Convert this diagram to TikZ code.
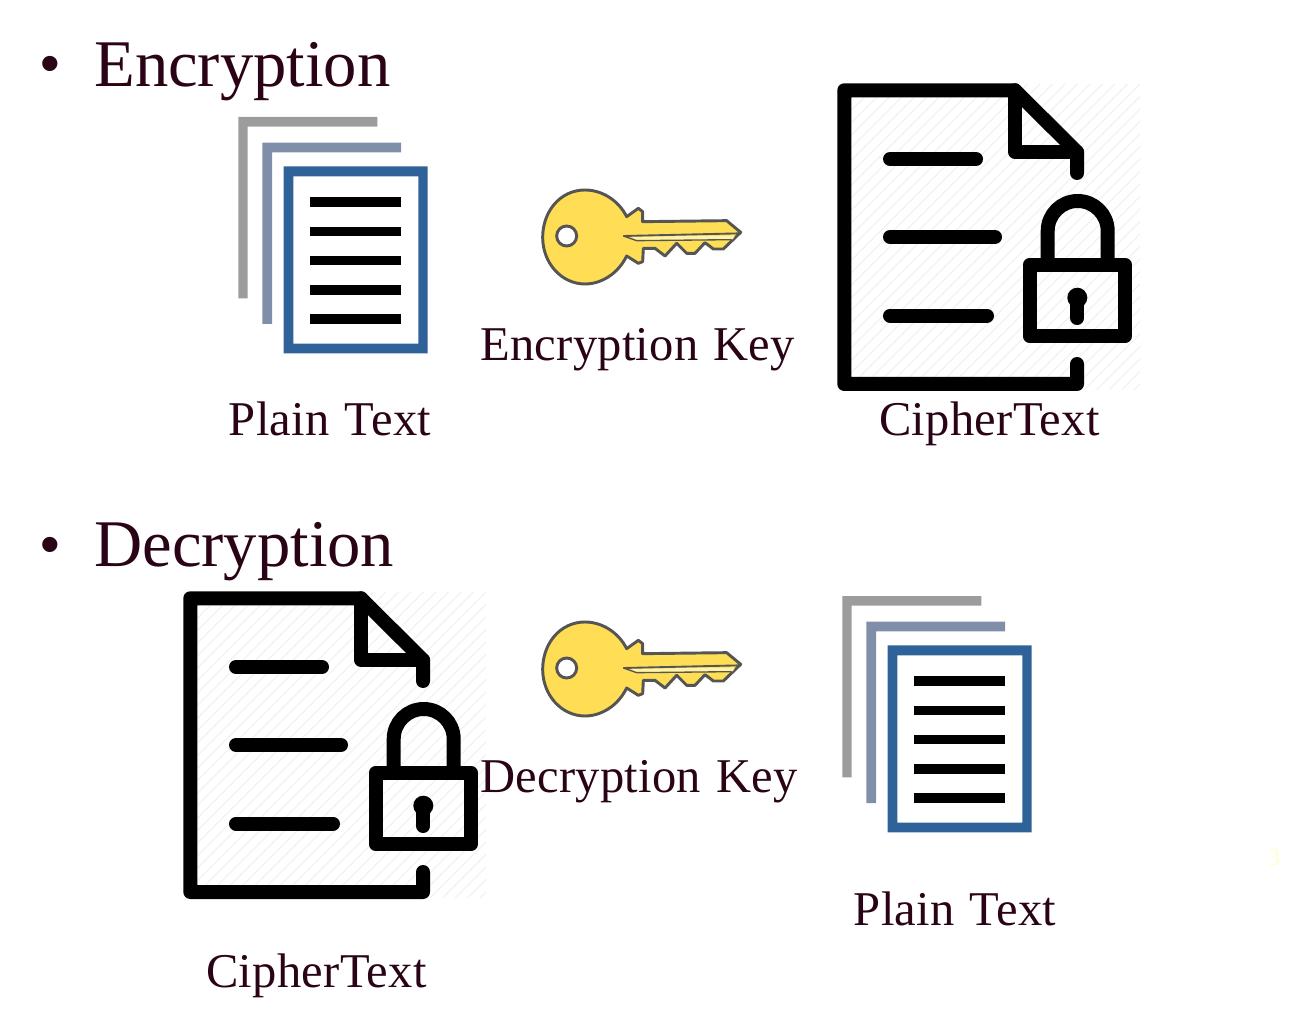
\documentclass[tikz,border=0pt]{standalone}
\usepackage{fontspec}
\setmainfont{Liberation Serif}
\newfontfamily\bulletfont{Liberation Sans}
\newfontface\labelface{Liberation Serif}[LetterSpace=0.6,WordSpace=1.2]
\definecolor{inktext}{HTML}{2A0416}
\definecolor{hatchgrey}{HTML}{F2F2F2}
\definecolor{keyyellow}{HTML}{FFDD55}
\definecolor{keypale}{HTML}{FFF3A8}
\definecolor{keyline}{HTML}{555555}
\definecolor{stackgrey}{HTML}{9C9C9C}
\definecolor{stackslate}{HTML}{7F8FA9}
\definecolor{stackblue}{HTML}{2F6299}
\definecolor{pagenum}{HTML}{FFFFC8}
\tikzset{
  x=0.75pt,y=-0.75pt,
  heading/.style={anchor=base west,inner sep=0pt,text=inktext,font=\fontsize{50pt}{56pt}\selectfont},
  label/.style={anchor=base west,inner sep=0pt,text=inktext,font=\labelface\fontsize{36.4pt}{42pt}\selectfont},
  bulletmark/.style={anchor=base,inner sep=0pt,text=inktext,font=\bulletfont\fontsize{42pt}{56pt}\selectfont},
  iconline/.style={draw=black,line width=10.5pt,line cap=round,line join=round},
  pics/cipherdoc/.style={code={
    \begin{scope}
      \clip (18,14) rectangle (320,320);
      \foreach \k in {20,32.5,...,640}{\draw[hatchgrey,line width=0.9pt] (\k,14) -- ++(-306,306);}
    \end{scope}
    \draw[iconline] (257,294) -- (257,314) -- (24.3,314) -- (24.3,20.3) -- (195,20.3) -- (257,82) -- (257,103);
    \draw[iconline] (195,20.3) -- (195,82) -- (257,82);
    \draw[iconline] (70,89) -- (156,89);
    \draw[iconline] (70,167) -- (175,167);
    \draw[iconline] (70,245.7) -- (167,245.7);
    \draw[iconline,line cap=butt] (227.7,195) -- (227.7,161) arc[start angle=180,end angle=360,radius=30] -- (287.7,195);
    \draw[iconline] (209.7,194.7) rectangle (305,266.3);
    \fill[black] (257.3,227.7) circle[radius=10];
    \draw[black,line width=10.5pt,line cap=round] (257.3,227.7) -- (257.3,248);
  }},
  pics/keyicon/.style={code={
    \begin{scope}[x=0.25pt,y=-0.25pt]
      \draw[draw=keyline,fill=keyyellow,line width=2.2pt,line join=round]
        (290,110) .. controls (265,60) and (215,30) .. (165,30)
        .. controls (90,30) and (38,95) .. (38,172)
        .. controls (38,250) and (95,312) .. (165,312)
        .. controls (215,312) and (265,280) .. (290,228)
        -- (325,250) -- (338,245) -- (340,205) -- (375,205) -- (405,228) -- (440,190)
        -- (470,220) -- (495,220) -- (525,188) -- (550,207) -- (580,207) -- (632,157)
        -- (590,122) -- (338,125) -- (338,95) -- (325,85) -- cycle;
      \fill[keypale] (305,170) -- (615,167) -- (608,178) -- (320,182) -- cycle;
      \draw[keyline,line width=1.4pt] (280,168) -- (632,160);
      \draw[keyline,line width=1pt] (280,168) -- (320,182) -- (605,179);
      \draw[draw=keyline,fill=white,line width=2.2pt] (110,168) circle[radius=30];
    \end{scope}
  }},
  pics/stackicon/.style={code={
    \begin{scope}[x=0.25pt,y=-0.25pt]
      \fill[stackgrey] (40,36) -- (457,36) -- (457,65) -- (68,65) -- (68,580) -- (40,580) -- cycle;
      \fill[stackslate] (112,113) -- (528,113) -- (528,142) -- (141,142) -- (141,657) -- (112,657) -- cycle;
      \fill[stackblue,even odd rule] (176,184) rectangle (608,745) (205,214) rectangle (580,716);
      \foreach \t in {277,365,452,540,628}{\fill[black] (256,\t) rectangle (529,\t+29);}
    \end{scope}
  }}
}
\begin{document}
\begin{tikzpicture}
\useasboundingbox (0,0) rectangle (1300,1030);
\node[bulletmark] (b1) at (50,83) {•};
\node[heading] (enc) at (94,87) {Encryption};
\pic at (225,105) {stackicon};
\pic at (530,180) {keyicon};
\pic at (820,70) {cipherdoc};
\node[label] (ptA) at (228.5,436) {Plain Text};
\node[label] (ekey) at (480,361) {Encryption Key};
\node[label] (ctA) at (879,436) {CipherText};
\node[bulletmark] (b2) at (50,563) {•};
\node[heading] (dec) at (94,566) {Decryption};
\pic at (166,578) {cipherdoc};
\pic at (530,612) {keyicon};
\pic at (829,584) {stackicon};
\node[label] (dkey) at (480,792) {Decryption Key};
\node[label] (ptB) at (853.5,925) {Plain Text};
\node[label] (ctB) at (206,987.5) {CipherText};
\node[anchor=base,inner sep=0pt,text=pagenum,font=\fontsize{18pt}{20pt}\selectfont] (pg) at (1274,865) {3};
\end{tikzpicture}
\end{document}
